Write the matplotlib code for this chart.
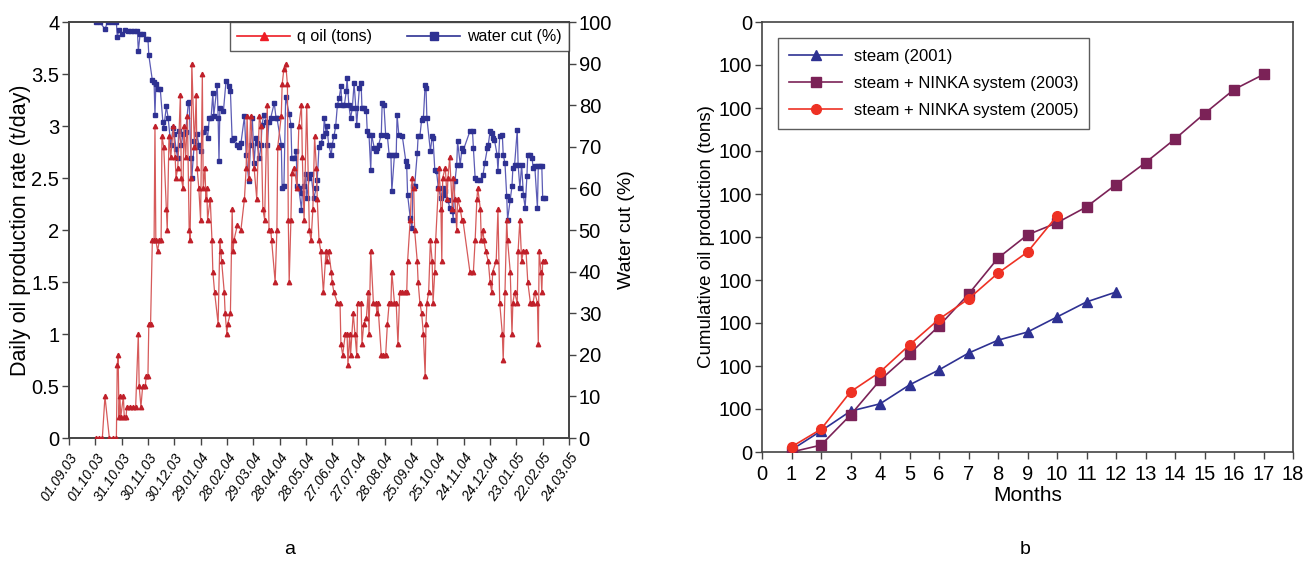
import matplotlib
matplotlib.use("Agg")
import matplotlib.pyplot as plt
from matplotlib.ticker import FuncFormatter

plt.rcParams['font.family'] = ['Liberation Sans', 'DejaVu Sans']

# ---------------- Panel a data (days since 01.09.03) ----------------
date_labels = ["01.09.03", "01.10.03", "31.10.03", "30.11.03", "30.12.03", "29.01.04",
               "28.02.04", "29.03.04", "28.04.04", "28.05.04", "27.06.04", "27.07.04",
               "28.08.04", "25.09.04", "25.10.04", "24.11.04", "24.12.04", "23.01.05",
               "22.02.05", "24.03.05"]
tick_days = [30 * i for i in range(len(date_labels))]

oil_day = [31, 34, 38, 41, 46, 50, 54, 55, 56, 57, 58, 59, 62, 63, 65, 66, 70, 73, 76, 79,
           80, 82, 84, 87, 88, 90, 91, 93, 95, 97, 98, 99, 101, 103, 105, 106, 108, 111, 112, 114,
           116, 119, 121, 122, 124, 127, 128, 130, 131, 133, 135, 137, 138, 139, 140, 143, 145, 146, 148, 150,
           152, 153, 155, 156, 157, 158, 161, 163, 164, 166, 170, 172, 173, 174, 177, 178, 180, 181, 184, 186,
           187, 188, 192, 196, 200, 202, 203, 205, 207, 211, 214, 217, 219, 221, 223, 226, 228, 230, 231, 235,
           237, 238, 242, 243, 245, 247, 249, 250, 251, 253, 254, 257, 260, 262, 265, 266, 268, 271, 274, 276,
           278, 280, 282, 283, 285, 287, 290, 293, 294, 296, 299, 300, 302, 306, 309, 310, 312, 315, 317, 318,
           320, 321, 324, 326, 328, 329, 333, 334, 336, 339, 341, 342, 344, 347, 350, 351, 352, 356, 358, 361,
           363, 365, 367, 368, 371, 373, 375, 377, 380, 383, 385, 386, 389, 391, 393, 394, 397, 398, 400, 402,
           404, 406, 407, 408, 410, 412, 414, 415, 417, 418, 421, 422, 424, 425, 426, 429, 431, 432, 434, 437,
           438, 440, 442, 443, 446, 448, 449, 457, 461, 463, 465, 466, 469, 470, 472, 473, 475, 478, 480, 482,
           483, 487, 489, 491, 494, 495, 497, 499, 500, 503, 505, 506, 508, 511, 512, 514, 516, 518, 521, 523,
           526, 528, 529, 531, 534, 535, 536, 538, 539, 540, 543]
oil_rate = [0.0, 0.0, 0.0, 0.4, 0.0, 0.0, 0.0, 0.7, 0.8, 0.2, 0.4, 0.2, 0.4, 0.2, 0.2, 0.3, 0.3, 0.3, 0.3, 1.0,
            0.5, 0.3, 0.5, 0.5, 0.6, 0.6, 1.1, 1.1, 1.9, 1.9, 3.0, 1.9, 1.8, 1.9, 1.9, 2.9, 2.8, 2.2, 2.0, 2.9,
            2.7, 3.0, 2.7, 2.5, 2.6, 3.3, 2.5, 2.4, 3.0, 2.7, 3.1, 2.0, 1.9, 2.5, 3.6, 2.8, 3.3, 2.6, 2.4, 2.1,
            3.5, 2.4, 2.6, 2.3, 2.4, 2.1, 2.3, 1.9, 1.6, 1.4, 1.1, 1.9, 1.8, 1.7, 1.4, 1.2, 1.0, 1.1, 1.2, 2.2,
            1.8, 1.9, 2.05, 2.0, 2.3, 2.6, 3.1, 2.5, 3.1, 2.6, 2.3, 3.1, 3.0, 2.2, 2.1, 3.2, 2.0, 2.0, 1.9, 1.5,
            2.0, 2.8, 3.1, 3.4, 3.55, 3.6, 3.4, 2.1, 1.5, 2.1, 2.55, 2.6, 2.4, 3.0, 3.2, 2.7, 2.1, 3.2, 2.0, 1.9,
            2.2, 2.9, 2.6, 2.3, 1.9, 1.8, 1.4, 1.8, 1.7, 1.8, 1.6, 1.5, 1.4, 1.3, 1.3, 0.9, 0.8, 1.0, 1.0, 0.7,
            1.0, 0.8, 1.2, 1.0, 0.8, 1.3, 1.3, 0.9, 1.1, 1.15, 1.4, 1.0, 1.8, 1.3, 1.3, 1.2, 1.3, 0.8, 0.8, 0.8,
            1.1, 1.3, 1.3, 1.6, 1.3, 1.3, 0.9, 1.4, 1.4, 1.4, 1.4, 1.7, 2.1, 2.5, 2.4, 2.0, 1.7, 1.5, 1.3, 1.2,
            1.0, 0.6, 1.1, 1.3, 1.4, 1.9, 1.7, 1.3, 1.6, 1.9, 2.4, 2.6, 2.2, 1.7, 2.5, 2.6, 2.3, 2.5, 2.7, 2.2,
            2.5, 2.3, 2.0, 2.3, 2.2, 2.1, 2.1, 1.6, 1.6, 1.9, 2.3, 2.4, 2.2, 1.9, 2.0, 1.9, 1.8, 1.7, 1.5, 1.4,
            1.6, 1.7, 2.2, 1.3, 1.0, 0.75, 1.4, 2.1, 1.9, 1.6, 1.0, 1.3, 1.4, 1.3, 1.8, 2.1, 1.7, 1.8, 1.8, 1.5,
            1.3, 1.3, 1.3, 1.4, 1.3, 0.9, 1.8, 1.6, 1.4, 1.7, 1.7]

wc_day = [31, 35, 41, 44, 49, 54, 55, 57, 60, 64, 67, 71, 74, 78, 79, 81, 84, 88, 90, 91,
          95, 97, 98, 99, 101, 104, 107, 108, 111, 113, 116, 119, 120, 122, 124, 125, 128, 130, 133, 136,
          137, 139, 140, 143, 145, 146, 148, 150, 153, 156, 158, 160, 162, 164, 165, 169, 170, 171, 172, 176,
          179, 182, 184, 186, 188, 192, 194, 196, 200, 202, 205, 207, 209, 211, 213, 214, 217, 219, 220, 222,
          225, 226, 228, 230, 234, 236, 237, 242, 243, 245, 247, 251, 253, 254, 257, 259, 260, 262, 265, 266,
          268, 270, 271, 274, 276, 279, 282, 283, 285, 287, 290, 291, 293, 294, 296, 299, 300, 302, 304, 306,
          308, 310, 311, 314, 316, 317, 319, 321, 323, 325, 327, 328, 331, 333, 334, 336, 339, 340, 342, 344,
          345, 348, 350, 351, 353, 356, 357, 359, 361, 363, 365, 367, 368, 371, 373, 374, 376, 380, 384, 385,
          386, 389, 391, 392, 394, 397, 398, 400, 402, 404, 406, 407, 408, 412, 414, 415, 417, 419, 421, 424,
          426, 427, 429, 432, 434, 437, 438, 440, 442, 443, 446, 448, 449, 457, 460, 461, 463, 465, 469, 472,
          474, 477, 478, 480, 482, 483, 485, 488, 489, 491, 494, 495, 497, 499, 500, 503, 505, 506, 508, 511,
          512, 514, 516, 518, 520, 522, 523, 526, 528, 529, 531, 534, 535, 537, 539, 540, 543]
water_cut = [100, 100, 98.3, 100, 100, 100, 96.5, 98, 97, 98, 97.8, 97.8, 97.8, 97.8, 93, 97, 97, 96, 96, 92,
             86, 85.5, 77.6, 85, 84, 84, 76, 74.5, 79.7, 77, 70.5, 74.5, 73, 69.5, 67.3, 73.7, 70.5, 73, 73.5, 80.5,
             80.7, 67.3, 62.5, 71.5, 70, 73, 70.5, 68.9, 73.5, 74.5, 72, 77, 77, 82.9, 77.5, 84.9, 77, 66.5, 79.3, 78.5,
             85.8, 84.5, 83.5, 71.7, 72, 70.5, 70, 70.8, 77.3, 68, 61.7, 70.5, 77, 66, 72, 71, 67.3, 70.5, 75.3, 77.7,
             76, 70.5, 76, 77, 80.5, 77, 77, 70.5, 60.1, 60.5, 82, 78, 75.3, 67.3, 67.3, 69, 60.5, 60.1, 54.9, 58.9,
             60.5, 63.5, 57.7, 62.5, 63.5, 57.7, 60.1, 62, 70, 70.9, 72.5, 76.9, 73.3, 74.9, 70.5, 68, 70.5, 72.5, 74.9, 80.1,
             81.7, 84.5, 80.1, 80.1, 83.3, 86.5, 80.1, 76.9, 79.3, 85.3, 79.3, 75.3, 84.1, 85.3, 79.3, 79.3, 78.5, 73.7, 72.9, 64.4,
             72.9, 69.7, 68.9, 69.7, 70.5, 72.9, 80.5, 80.1, 72.9, 72.5, 68, 68, 59.3, 68, 68, 77.7, 72.9, 72.5, 66.5, 65.3,
             58.5, 52.9, 50.5, 60.5, 60.5, 68.5, 72.5, 72.5, 76.5, 76.9, 84.9, 84.1, 76.9, 68.9, 72.5, 72.1, 64.5, 64.1, 60.1, 57.7,
             60.1, 58.5, 59.3, 57.3, 55.3, 54.5, 52.5, 61.7, 65.7, 71.3, 65.7, 69.7, 68.9, 73.7, 73.7, 69.7, 62.5, 62.1, 62.1, 63.3,
             66.1, 69.7, 70.5, 73.7, 73.3, 72.1, 71.7, 68.1, 64.1, 72.5, 72.9, 68.1, 66.1, 58.1, 52.5, 57.3, 60.5, 64.9, 65.7, 74.1,
             65.7, 60.1, 65.7, 58.5, 55.3, 62.9, 68.1, 68.1, 67.3, 64.9, 65.3, 55.3, 65.3, 65.3, 65.3, 57.7, 57.7]

# ---------------- Panel b data ----------------
months = list(range(0, 19))
y_tick_values = [0, 100, 200, 300, 400, 500, 600, 700, 800, 900, 1000]
y_tick_labels = ["0", "100", "100", "100", "100", "100", "100", "100", "100", "100", "0"]

steam_m = [1, 2, 3, 4, 5, 6, 7, 8, 9, 10, 11, 12]
steam_v = [5, 49, 95, 112, 156, 191, 230, 260, 279, 314, 349, 372]
ninka03_m = list(range(1, 18))
ninka03_v = [0, 16, 86, 167, 228, 293, 367, 451, 505, 533, 570, 622, 673, 728, 787, 843, 878]
ninka05_m = [1, 2, 3, 4, 5, 6, 7, 8, 9, 10]
ninka05_v = [12, 53, 140, 186, 249, 309, 356, 416, 465, 549]

# ---------------- Figure ----------------
fig = plt.figure(figsize=(13.05, 5.62), dpi=100)
spine_col = '#444444'
tick_fs = 14.5

# Panel a
ax = fig.add_axes([69/1305, 1-438/562, 500/1305, 416/562])
ax2 = ax.twinx()
red_line, red_mark = '#d65a5a', '#c0202a'
blue_line, blue_mark = '#5b5bb5', '#2e3192'
ax.plot(oil_day, oil_rate, color=red_line, lw=0.9, marker='^', ms=3.2,
        mfc=red_mark, mec=red_mark, zorder=3)
ax2.plot(wc_day, water_cut, color=blue_line, lw=0.9, marker='s', ms=3.0,
         mfc=blue_mark, mec=blue_mark, zorder=3)
ax.set_xlim(0, 570)
ax.set_ylim(0, 4)
ax2.set_ylim(0, 100)
ax.set_yticks([0, 0.5, 1, 1.5, 2, 2.5, 3, 3.5, 4])
ax.yaxis.set_major_formatter(FuncFormatter(lambda v, p: '%g' % v))
ax2.set_yticks(range(0, 101, 10))
ax.set_xticks(tick_days)
ax.set_xticklabels(date_labels, rotation=56, ha='right', va='top', rotation_mode='anchor',
                   fontsize=10, fontstyle='italic')
ax.tick_params(axis='y', labelsize=tick_fs, length=5, width=1, color=spine_col, direction='out', pad=2)
ax2.tick_params(axis='y', labelsize=tick_fs, length=5, width=1, color=spine_col, direction='out', pad=2)
ax.tick_params(axis='x', length=5, width=1, color=spine_col, direction='out', pad=4)
ax.set_ylabel('Daily oil production rate (t/day)', fontsize=15.5, labelpad=0)
ax2.set_ylabel('Water cut (%)', fontsize=14, labelpad=4)
for a in (ax, ax2):
    for s in a.spines.values():
        s.set_color(spine_col)
        s.set_linewidth(1.2)
leg_handles = [
    plt.Line2D([], [], color='#ee1c25', lw=1.2, marker='^', ms=6, mfc='#ee1c25', mec='#ee1c25'),
    plt.Line2D([], [], color='#2e3192', lw=1.2, marker='s', ms=6, mfc='#2e3192', mec='#2e3192'),
]
leg = ax.legend(leg_handles, ['q oil (tons)', 'water cut (%)'], ncol=2, loc='upper right',
                bbox_to_anchor=(1.0, 1.0), borderaxespad=0, fontsize=11.5, frameon=True,
                fancybox=False, handlelength=3.3, columnspacing=2.2, handletextpad=0.45,
                borderpad=0.45)
leg.get_frame().set_edgecolor('#333333')
leg.get_frame().set_linewidth(1.0)
leg.set_zorder(10)
ax.set_zorder(ax2.get_zorder() + 1)
ax.patch.set_visible(False)
fig.text(290/1305, 1-550/562, 'a', ha='center', va='center', fontsize=14)

# Panel b
bx = fig.add_axes([762/1305, 1-452/562, 531/1305, 430/562])
bx.plot(steam_m, steam_v, color='#2e3192', lw=1.2, marker='^', ms=6.5,
        mfc='#2e3192', mec='#2e3192', label='steam (2001)', zorder=3)
bx.plot(ninka03_m, ninka03_v, color='#7b2257', lw=1.2, marker='s', ms=7,
        mfc='#7b2257', mec='#7b2257', label='steam + NINKA system (2003)', zorder=3)
bx.plot(ninka05_m, ninka05_v, color='#ee3124', lw=1.2, marker='o', ms=7,
        mfc='#ee3124', mec='#ee3124', label='steam + NINKA system (2005)', zorder=4)
bx.set_xlim(0, 18)
bx.set_ylim(0, 1000)
bx.set_xticks(months)
bx.set_yticks(y_tick_values)
bx.set_yticklabels(y_tick_labels)
bx.tick_params(axis='both', labelsize=tick_fs, length=5, width=1, color=spine_col, direction='out', pad=2)
bx.tick_params(axis='x', pad=4)
bx.set_xlabel('Months', fontsize=15, labelpad=2)
bx.set_ylabel('Cumulative oil production (tons)', fontsize=13.5, labelpad=3)
for s in bx.spines.values():
    s.set_color(spine_col)
    s.set_linewidth(1.2)
leg2 = bx.legend(loc='upper left', bbox_to_anchor=(16/531, 1-16/430), borderaxespad=0,
                 fontsize=12, frameon=True, fancybox=False, handlelength=3.2,
                 handletextpad=0.7, borderpad=0.65, labelspacing=0.72)
leg2.get_frame().set_edgecolor('#333333')
leg2.get_frame().set_linewidth(1.0)
fig.text(1025/1305, 1-550/562, 'b', ha='center', va='center', fontsize=14)

fig.savefig('out.png', dpi=100)
